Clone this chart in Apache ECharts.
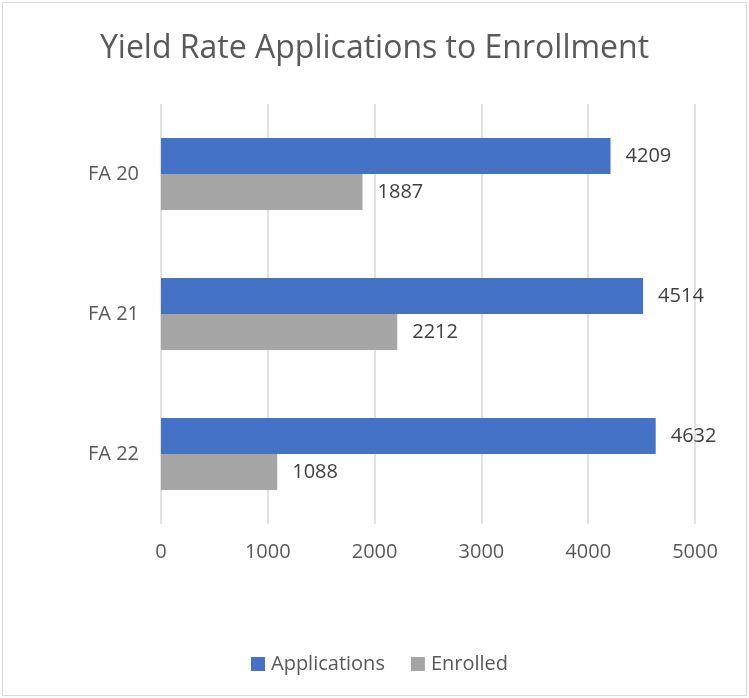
<!DOCTYPE html>
<html>
<head>
<meta charset="utf-8">
<script src="https://cdn.jsdelivr.net/npm/echarts@6/dist/echarts.min.js"></script>
<style>
  html, body { margin: 0; padding: 0; background: #fff; }
  #frame { position: absolute; left: 2px; top: 2px; width: 743px; height: 692px; border: 1px solid #D9D9D9; }
  #chart { width: 749px; height: 698px; }
</style>
</head>
<body>
<div id="frame"></div>
<div id="chart"></div>
<script>
const terms = ['FA 20', 'FA 21', 'FA 22'];
const applications = [4209, 4514, 4632];
const enrolled = [1887, 2212, 1088];
const xTicks = { min: 0, max: 5000, interval: 1000 };

const fontFamily = '"Open Sans", "Liberation Sans", sans-serif';
const chart = echarts.init(document.getElementById('chart'), null, { renderer: 'canvas' });

const valueLabel = {
  show: true,
  position: 'right',
  distance: 15,
  color: '#404040',
  fontSize: 20,
  fontFamily: fontFamily
};

chart.setOption({
  animation: false,
  title: {
    text: 'Yield Rate Applications to Enrollment',
    left: 'center',
    top: 28,
    textStyle: { color: '#595959', fontSize: 32, fontWeight: 'normal', fontFamily: fontFamily }
  },
  legend: {
    bottom: 19,
    left: 246,
    itemWidth: 14,
    itemHeight: 14,
    itemGap: 26,
    icon: 'rect',
    textStyle: { color: '#595959', fontSize: 20, fontFamily: fontFamily, padding: [0, 0, 0, 1] },
    data: ['Applications', 'Enrolled']
  },
  grid: { left: 161, right: 54, top: 104, bottom: 174, containLabel: false },
  xAxis: {
    type: 'value',
    min: xTicks.min,
    max: xTicks.max,
    interval: xTicks.interval,
    axisLine: { show: false },
    axisTick: { show: false },
    splitLine: { show: true, lineStyle: { color: '#D9D9D9', width: 1.5 } },
    axisLabel: {
      color: '#595959',
      fontSize: 20,
      margin: 18,
      fontFamily: fontFamily,
      formatter: function (v) { return String(v); }
    }
  },
  yAxis: {
    type: 'category',
    data: terms,
    inverse: true,
    axisLine: { show: false },
    axisTick: { show: false },
    axisLabel: { color: '#595959', fontSize: 20, margin: 22, fontFamily: fontFamily }
  },
  series: [
    {
      name: 'Applications',
      type: 'bar',
      data: applications,
      barWidth: 36,
      barGap: '0%',
      itemStyle: { color: '#4472C4' },
      label: valueLabel
    },
    {
      name: 'Enrolled',
      type: 'bar',
      data: enrolled,
      barWidth: 36,
      barGap: '0%',
      itemStyle: { color: '#A5A5A5' },
      label: valueLabel
    }
  ]
});
</script>
</body>
</html>
